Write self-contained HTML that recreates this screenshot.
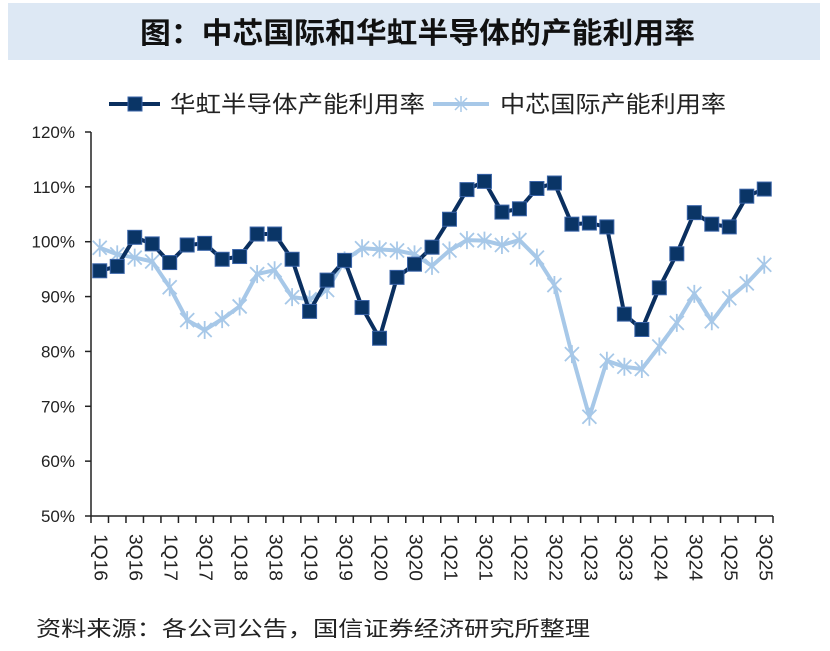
<!DOCTYPE html>
<html><head><meta charset="utf-8"><style>
body{margin:0;width:830px;height:646px;background:#fff;overflow:hidden;font-family:"Liberation Sans","Noto Sans CJK SC",sans-serif;}
</style></head><body>
<svg width="830" height="646" xmlns="http://www.w3.org/2000/svg">
<rect x="8" y="3" width="812" height="57" fill="#dde8f4"/>
<text x="140" y="43" font-size="29" font-weight="bold" fill="#111" textLength="555" lengthAdjust="spacingAndGlyphs">图：中芯国际和华虹半导体的产能利用率</text>
<g id="legend">
<g>
<line x1="109" y1="104" x2="160" y2="104" stroke="#0a2f5f" stroke-width="4"/>
<rect x="128" y="97" width="14" height="14" fill="#0a3566" stroke="#3a64a8" stroke-width="1"/>
<text x="170" y="112" font-size="23" fill="#222" textLength="255" lengthAdjust="spacingAndGlyphs">华虹半导体产能利用率</text>
</g>
<g>
<line x1="433" y1="104" x2="489" y2="104" stroke="#a7c8e8" stroke-width="4"/>
<path d="M455 98 L467 110 M467 98 L455 110 M461 96 L461 112" stroke="#a7c8e8" stroke-width="1.5"/>
<text x="500" y="112" font-size="23" fill="#222" textLength="226" lengthAdjust="spacingAndGlyphs">中芯国际产能利用率</text>
</g>
</g>
<g id="axes"></g>
<g id="plot"></g>
<text x="36" y="636" font-size="21" fill="#222" textLength="554" lengthAdjust="spacingAndGlyphs">资料来源：各公司公告，国信证券经济研究所整理</text>
</svg>
<script>
const categories=["1Q16","2Q16","3Q16","4Q16","1Q17","2Q17","3Q17","4Q17","1Q18","2Q18","3Q18","4Q18","1Q19","2Q19","3Q19","4Q19","1Q20","2Q20","3Q20","4Q20","1Q21","2Q21","3Q21","4Q21","1Q22","2Q22","3Q22","4Q22","1Q23","2Q23","3Q23","4Q23","1Q24","2Q24","3Q24","4Q24","1Q25","2Q25","3Q25"];
const huahong=[94.7,95.5,100.8,99.6,96.2,99.4,99.7,96.8,97.3,101.4,101.4,96.8,87.3,93.0,96.6,88.0,82.4,93.5,95.9,99.0,104.1,109.5,111.0,105.4,106.0,109.7,110.7,103.2,103.4,102.7,86.8,84.0,91.6,97.8,105.3,103.2,102.7,108.3,109.6];
const smic=[98.9,97.7,97.1,96.4,91.7,85.7,83.9,85.9,88.2,94.1,94.8,89.9,89.5,91.2,96.6,98.8,98.6,98.4,97.7,95.6,98.4,100.3,100.2,99.4,100.3,97.1,92.1,79.5,68.1,78.3,77.2,76.8,80.9,85.2,90.5,85.5,89.7,92.4,95.8];
const yTicks=[50,60,70,80,90,100,110,120];
const NS="http://www.w3.org/2000/svg";
const X0=91,X1=773,Y0=516,Y1=132,YMIN=50,YMAX=120;
const step=(X1-X0)/categories.length;
const xs=i=>X0+step*(i+0.5);
const ys=v=>Y0-(v-YMIN)/(YMAX-YMIN)*(Y0-Y1);
function mk(t,a,p){const e=document.createElementNS(NS,t);for(const k in a)e.setAttribute(k,a[k]);p.appendChild(e);return e;}
const ax=document.getElementById('axes'),pl=document.getElementById('plot');
let l=mk('line',{x1:X0,y1:Y1,x2:X0,y2:Y0,stroke:'#222','stroke-width':1.5},ax);


l=mk('line',{x1:X0,y1:Y0,x2:X1,y2:Y0,stroke:'#222','stroke-width':1.5},ax);


yTicks.forEach(v=>{
 mk('line',{x1:X0-6,y1:ys(v),x2:X0,y2:ys(v),stroke:'#222','stroke-width':1.5},ax);
 const t=mk('text',{x:X0-16,y:ys(v)+6,'text-anchor':'end','font-size':17,fill:'#222'},ax);
 t.textContent=v+'%';
 
 
});
for(let i=0;i<=categories.length;i++){mk('line',{x1:X0+step*i,y1:Y0,x2:X0+step*i,y2:Y0+7,stroke:'#222','stroke-width':1.5},ax);}
categories.forEach((c,i)=>{
 if(i%2)return;
 const x=xs(i)-5,y=Y0+18;
 const t=mk('text',{x:x,y:y,'font-size':18,fill:'#222',textLength:47,lengthAdjust:'spacingAndGlyphs',transform:`rotate(90 ${x} ${y})`},ax);
 t.textContent=c;
 
 
});
function path(arr){return arr.map((v,i)=>(i?'L':'M')+xs(i).toFixed(1)+' '+ys(v).toFixed(1)).join(' ');}
let p=mk('path',{d:path(smic),fill:'none',stroke:'#a7c8e8','stroke-width':4,'stroke-linejoin':'round'},pl);


smic.forEach((v,i)=>{const x=xs(i),y=ys(v);
 const m=mk('path',{d:`M${x-7} ${y-7}L${x+7} ${y+7}M${x+7} ${y-7}L${x-7} ${y+7}M${x} ${y-9}L${x} ${y+9}`,stroke:'#a7c8e8','stroke-width':1.8},pl);
 
 
});
p=mk('path',{d:path(huahong),fill:'none',stroke:'#0a2f5f','stroke-width':4,'stroke-linejoin':'round'},pl);


huahong.forEach((v,i)=>{
 const r=mk('rect',{x:xs(i)-7,y:ys(v)-7,width:14,height:14,fill:'#0a3566',stroke:'#3a64a8','stroke-width':1},pl);
 
 
});
</script>
</body></html>
